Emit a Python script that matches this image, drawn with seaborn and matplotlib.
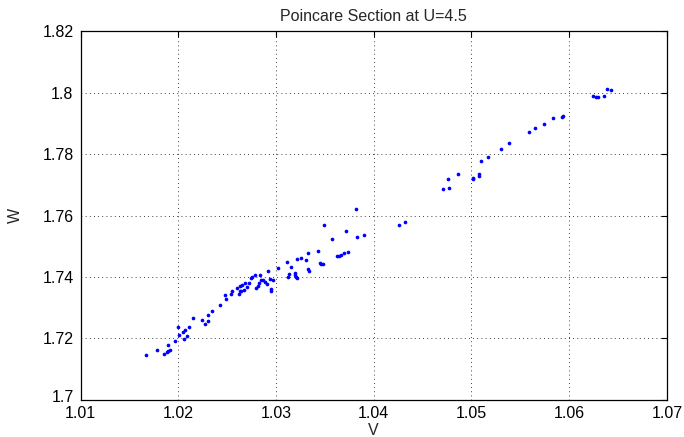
import matplotlib
matplotlib.use("Agg")
import matplotlib.pyplot as plt
import matplotlib.transforms as mtransforms
import seaborn as sns
import pandas as pd

V = [1.01668, 1.01785, 1.01857, 1.01882, 1.01898, 1.01916, 1.01900, 1.01964, 1.01997, 1.02007,
     1.02063, 1.02087, 1.02051, 1.02065, 1.02109, 1.02149, 1.02242, 1.02273, 1.02304, 1.02301,
     1.02347, 1.02427, 1.02481, 1.02491, 1.02544, 1.02551, 1.02597, 1.02621, 1.02633, 1.02645,
     1.02628, 1.02649, 1.02672, 1.02682, 1.02703, 1.02720, 1.02741, 1.02759, 1.02783, 1.02797,
     1.02812, 1.02828, 1.02844, 1.02838, 1.02870, 1.02887, 1.02913, 1.02920, 1.02943, 1.02968,
     1.02951, 1.02951, 1.03023, 1.03115, 1.03156, 1.03132, 1.03122, 1.03194, 1.03197, 1.03204,
     1.03214, 1.03219, 1.03257, 1.03306, 1.03325, 1.03324, 1.03337, 1.03426, 1.03447, 1.03465,
     1.03482, 1.03491, 1.03574, 1.03629, 1.03647, 1.03670, 1.03695, 1.03734, 1.03714, 1.03818,
     1.03825, 1.03900, 1.04261, 1.04324, 1.04708, 1.04766, 1.04762, 1.04858, 1.05015, 1.05018,
     1.05073, 1.05078, 1.05100, 1.05165, 1.05304, 1.05383, 1.05586, 1.05647, 1.05739, 1.05833,
     1.05927, 1.05939, 1.06245, 1.06278, 1.06297, 1.06358, 1.06388, 1.06427]
W = [1.71474, 1.71630, 1.71507, 1.71555, 1.71588, 1.71624, 1.71783, 1.71907, 1.72388, 1.72125,
     1.71982, 1.72070, 1.72200, 1.72275, 1.72362, 1.72665, 1.72597, 1.72467, 1.72584, 1.72766,
     1.72893, 1.73104, 1.73410, 1.73296, 1.73459, 1.73534, 1.73654, 1.73453, 1.73540, 1.73534,
     1.73713, 1.73729, 1.73576, 1.73820, 1.73680, 1.73801, 1.73980, 1.74012, 1.74055, 1.73654,
     1.73723, 1.73820, 1.73908, 1.74081, 1.73899, 1.73837, 1.73788, 1.74185, 1.73947, 1.73892,
     1.73625, 1.73550, 1.74292, 1.74487, 1.74331, 1.74103, 1.74006, 1.74126, 1.74055, 1.73999,
     1.73967, 1.74598, 1.74614, 1.74549, 1.74787, 1.74250, 1.74201, 1.74858, 1.74445, 1.74422,
     1.74413, 1.75704, 1.75233, 1.74679, 1.74692, 1.74712, 1.74793, 1.74816, 1.75493, 1.76225,
     1.75301, 1.75382, 1.75704, 1.75789, 1.76876, 1.76886, 1.77185, 1.77341, 1.77234, 1.77172,
     1.77351, 1.77286, 1.77774, 1.77917, 1.78178, 1.78350, 1.78715, 1.78855, 1.78975, 1.79164,
     1.79219, 1.79252, 1.79889, 1.79857, 1.79857, 1.79889, 1.80107, 1.80098]

x_ticks = [1.01, 1.02, 1.03, 1.04, 1.05, 1.06, 1.07]
x_ticklabels = ["1.01", "1.02", "1.03", "1.04", "1.05", "1.06", "1.07"]
y_ticks = [1.70, 1.72, 1.74, 1.76, 1.78, 1.80, 1.82]
y_ticklabels = ["1.7", "1.72", "1.74", "1.76", "1.78", "1.8", "1.82"]

title = "Poincare Section at U=4.5"
xlabel = "V"
ylabel = "W"

sns.set_style("white")
plt.rcParams["font.family"] = ["Liberation Sans", "DejaVu Sans"]

df = pd.DataFrame({"V": V, "W": W})

fig = plt.figure(figsize=(6.84, 4.37), dpi=100)
ax = fig.add_axes([0.1177, 0.0847, 0.8573, 0.8443])

sns.scatterplot(data=df, x="V", y="W", ax=ax, color="#0000ff", s=7,
                linewidth=0, marker="o", zorder=3)

ax.set_xlim(1.01, 1.07)
ax.set_ylim(1.70, 1.82)
ax.set_xticks(x_ticks)
ax.set_xticklabels(x_ticklabels)
ax.set_yticks(y_ticks)
ax.set_yticklabels(y_ticklabels)

ax.grid(True, color="black", linestyle=(0, (1, 4)), linewidth=0.6)
ax.tick_params(direction="in", length=4, width=0.8, top=True, right=True,
               labelsize=11.5, colors="black")
ax.tick_params(axis="x", pad=4)
ax.tick_params(axis="y", pad=5)
for sp in ax.spines.values():
    sp.set_visible(True)
    sp.set_color("black")
    sp.set_linewidth(0.9)

# nudge the lowest y label up a little, as in the reference
lbl = ax.get_yticklabels()[0]
lbl.set_transform(lbl.get_transform() +
                  mtransforms.ScaledTranslation(0, 4 / 100, fig.dpi_scale_trans))

ax.set_title(title, fontsize=11.5, pad=7)
ax.set_xlabel(xlabel, fontsize=11.5, labelpad=2)
ax.set_ylabel(ylabel, fontsize=11.5, labelpad=14)

fig.savefig("out.png", dpi=100)
